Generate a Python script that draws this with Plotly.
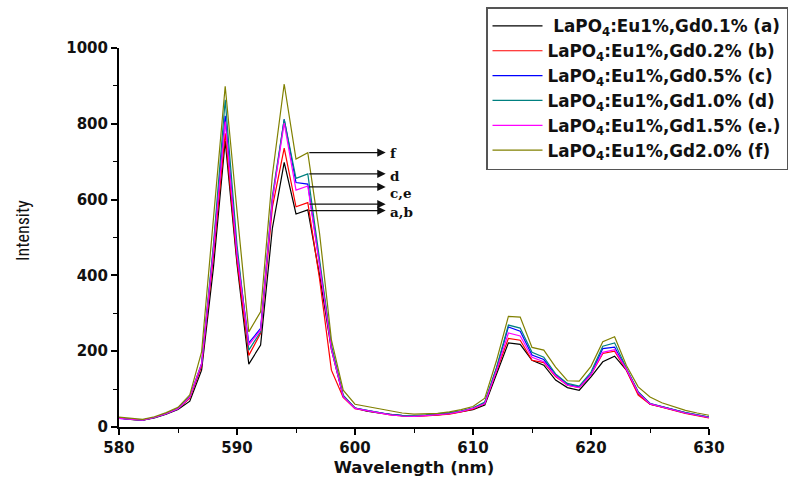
import plotly.graph_objects as go

wavelength = list(range(580, 631))

a_gd01 = [24, 20, 18, 24, 34, 46, 68, 150, 420, 755, 430, 166, 216, 525, 698, 562, 573, 400, 205, 80,
          50, 42, 37, 33, 30, 29, 30, 32, 35, 40, 46, 58, 140, 222, 218, 176, 163, 124, 104, 97,
          132, 172, 187, 150, 88, 60, 53, 44, 37, 31, 25]
b_gd02 = [24, 20, 18, 25, 35, 48, 76, 160, 450, 775, 440, 189, 247, 580, 736, 581, 592, 390, 150, 78,
          48, 42, 36, 32, 29, 28, 29, 31, 34, 40, 47, 62, 150, 234, 229, 176, 170, 133, 110, 104,
          138, 194, 200, 150, 84, 60, 52, 43, 36, 30, 24]
c_gd05 = [23, 20, 18, 25, 35, 48, 80, 165, 470, 821, 460, 222, 260, 600, 812, 645, 641, 430, 210, 82,
          50, 44, 38, 33, 30, 29, 31, 34, 37, 42, 50, 64, 155, 264, 253, 190, 178, 137, 112, 106,
          140, 207, 211, 153, 92, 62, 54, 45, 38, 32, 26]
d_gd10 = [24, 20, 18, 25, 36, 49, 80, 168, 480, 863, 480, 203, 251, 610, 812, 656, 668, 440, 215, 84,
          50, 44, 38, 33, 31, 30, 32, 34, 38, 42, 50, 66, 158, 269, 261, 197, 184, 140, 115, 108,
          145, 213, 222, 155, 93, 62, 54, 45, 38, 32, 26]
e_gd15 = [23, 20, 18, 25, 35, 48, 79, 167, 465, 806, 455, 216, 256, 600, 802, 625, 636, 425, 205, 80,
          49, 43, 37, 32, 29, 28, 30, 32, 35, 41, 49, 62, 150, 248, 240, 184, 172, 135, 110, 104,
          138, 197, 204, 152, 90, 61, 53, 44, 37, 31, 25]
f_gd20 = [26, 22, 20, 27, 38, 52, 85, 198, 560, 899, 570, 251, 304, 665, 905, 707, 724, 510, 230, 97,
          60, 54, 48, 42, 37, 34, 34, 36, 40, 46, 54, 76, 176, 292, 290, 210, 203, 158, 122, 121,
          160, 225, 238, 162, 106, 79, 64, 53, 44, 37, 31]

series_names = [
    " LaPO<sub>4</sub>:Eu1%,Gd0.1% (a)",
    "LaPO<sub>4</sub>:Eu1%,Gd0.2% (b)",
    "LaPO<sub>4</sub>:Eu1%,Gd0.5% (c)",
    "LaPO<sub>4</sub>:Eu1%,Gd1.0% (d)",
    "LaPO<sub>4</sub>:Eu1%,Gd1.5% (e.)",
    "LaPO<sub>4</sub>:Eu1%,Gd2.0% (f)",
]
series_values = [a_gd01, b_gd02, c_gd05, d_gd10, e_gd15, f_gd20]
series_colors = ["#000000", "#ff0000", "#0000ff", "#008080", "#ff00ff", "#808000"]

label_texts = ["f", "d", "c,e", "a,b"]
arrow_start_x = 596
arrow_end_x = 602.6
label_x = 602.85
idx596 = wavelength.index(596)

fig = go.Figure()
for name, vals, col in zip(series_names, series_values, series_colors):
    fig.add_trace(go.Scatter(x=wavelength, y=vals, mode="lines", name=name,
                             line=dict(color=col, width=1.2)))

arrow_ys = [f_gd20[idx596], d_gd10[idx596], (c_gd05[idx596] + e_gd15[idx596]) / 2 - 5,
            b_gd02[idx596] - 4, a_gd01[idx596] - 2]
for y in arrow_ys:
    fig.add_annotation(x=arrow_end_x, y=y, ax=arrow_start_x, ay=y, xref="x", yref="y",
                       axref="x", ayref="y", showarrow=True, arrowhead=2, arrowsize=1.4,
                       arrowwidth=1.2, arrowcolor="#111111", text="")

label_ys = [f_gd20[idx596], d_gd10[idx596] - 5, (c_gd05[idx596] + e_gd15[idx596]) / 2 - 20,
            (a_gd01[idx596] + b_gd02[idx596]) / 2 - 14]
for t, y in zip(label_texts, label_ys):
    fig.add_annotation(x=label_x, y=y, xref="x", yref="y", text=t, showarrow=False,
                       xanchor="left", yanchor="middle", borderpad=0,
                       font=dict(family="DejaVu Serif, Liberation Serif, serif", size=13.5,
                                 color="#111111", weight="bold"))

fig.add_annotation(x=(22 - 119) / 590, y=0.517, xref="paper", yref="paper",
                   text="Intensity", showarrow=False, textangle=-90,
                   xanchor="center", yanchor="middle",
                   font=dict(family="Liberation Sans Narrow, Arial Narrow, Roboto Condensed, sans-serif",
                             size=18, color="#111111"))

tickfont = dict(family="DejaVu Sans, Verdana, sans-serif", size=15, color="#111111", weight="bold")

fig.update_layout(
    width=788, height=477,
    margin=dict(l=119, r=79, t=48, b=50, autoexpand=False),
    paper_bgcolor="white", plot_bgcolor="white",
    showlegend=True,
    legend=dict(x=(486 - 119) / 590, y=(427 - 7) / 379, xanchor="left", yanchor="top",
                bgcolor="white", bordercolor="#555555", borderwidth=1.5,
                font=dict(family="DejaVu Sans, Verdana, sans-serif", size=16.8,
                          color="#111111", weight="bold"),
                itemwidth=50, tracegroupgap=0),
    xaxis=dict(range=[580, 630], showgrid=False, zeroline=False, showline=True,
               linecolor="black", linewidth=2, ticks="outside", ticklen=6, tickwidth=1.5,
               tickcolor="black", tick0=580, dtick=10, tickfont=tickfont,
               minor=dict(ticks="outside", ticklen=4, tickwidth=1.2, tickcolor="black", dtick=5),
               title=dict(text="Wavelength (nm)", standoff=6,
                          font=dict(family="DejaVu Sans, Verdana, sans-serif", size=16.5,
                                    color="#111111", weight="bold"))),
    yaxis=dict(range=[0, 1000], showgrid=False, zeroline=False, showline=True,
               linecolor="black", linewidth=2, ticks="outside", ticklen=6, tickwidth=1.5,
               tickcolor="black", tick0=0, dtick=200, tickfont=tickfont,
               minor=dict(ticks="outside", ticklen=4, tickwidth=1.2, tickcolor="black", dtick=100)),
)

fig.write_html("out.html")
